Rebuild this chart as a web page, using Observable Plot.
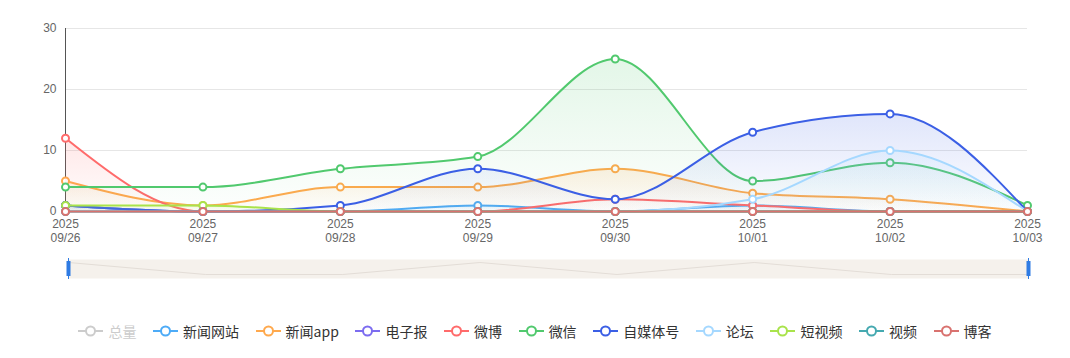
<!DOCTYPE html>
<html>
<head>
<meta charset="utf-8">
<script src="https://cdn.jsdelivr.net/npm/d3@7"></script>
<script src="https://cdn.jsdelivr.net/npm/@observablehq/plot@0.6"></script>
<style>
  html, body { margin: 0; padding: 0; background: #fff; }
  body { width: 1070px; height: 358px; overflow: hidden; font-family: "Noto Sans CJK SC", "Noto Sans", sans-serif; }
  #chart svg, #slider svg { display: block; }
  #legend { display: flex; justify-content: center; align-items: center; margin-top: 31px; height: 20px; font-size: 14px; color: #333; }
  .item { display: flex; align-items: center; margin: 0 8.3px; }
  .item svg { display: block; margin-right: 5px; }
</style>
</head>
<body>
<div id="chart"></div>
<div id="slider"></div>
<div id="legend"></div>
<script>
// ---- data ----
const dates = ["2025-09-26", "2025-09-27", "2025-09-28", "2025-09-29", "2025-09-30", "2025-10-01", "2025-10-02", "2025-10-03"];
const yTicks = [0, 10, 20, 30];

const legendNames = ["总量", "新闻网站", "新闻app", "电子报", "微博", "微信", "自媒体号", "论坛", "短视频", "视频", "博客"];
const legendColors = ["#cccccc", "#4dabf7", "#ffa94d", "#7c6cf0", "#ff6b6b", "#51c96e", "#3b5fe5", "#a5d8ff", "#a9e34b", "#45a9b0", "#d9726f"];
const hiddenSeries = ["总量"];

const newsSite = [1, 0, 0, 1, 0, 1, 0, 0];
const newsApp = [5, 1, 4, 4, 7, 3, 2, 0];
const ePaper = [1, 0, 0, 0, 0, 0, 0, 0];
const weibo = [12, 0, 0, 0, 2, 1, 0, 0];
const weixin = [4, 4, 7, 9, 25, 5, 8, 1];
const selfMedia = [1, 0, 1, 7, 2, 13, 16, 0];
const forum = [0, 0, 0, 0, 0, 2, 10, 0];
const shortVideo = [1, 1, 0, 0, 0, 0, 0, 0];
const video = [0, 0, 0, 0, 0, 0, 0, 0];
const blog = [0, 0, 0, 0, 0, 0, 0, 0];

const seriesValues = [newsSite, newsApp, ePaper, weibo, weixin, selfMedia, forum, shortVideo, video, blog];
const seriesNames = legendNames.filter(n => !hiddenSeries.includes(n));
const seriesColors = legendColors.filter((c, i) => !hiddenSeries.includes(legendNames[i]));

const rows = seriesNames.flatMap((name, si) =>
  dates.map((d, di) => ({series: name, date: d, value: seriesValues[si][di]})));

// ---- main chart ----
const seriesMarks = seriesNames.flatMap((name, si) => {
  const opts = {filter: r => r.series === name, x: "date", y: "value", curve: "monotone-x"};
  return [
    Plot.areaY(rows, {...opts, fill: `url(#grad-${si})`}),
    Plot.line(rows, {...opts, stroke: seriesColors[si], strokeWidth: 2}),
    Plot.dot(rows, {filter: opts.filter, x: "date", y: "value", r: 3.5, fill: "white", stroke: seriesColors[si], strokeWidth: 2})
  ];
});

const fmtYear = d => d.slice(0, 4);
const fmtDay = d => d.slice(5).replace("-", "/");
const axisFont = "'Liberation Sans', Arial, sans-serif";

const chart = Plot.plot({
  width: 1070,
  height: 250,
  marginLeft: 65,
  marginRight: 43,
  marginTop: 28,
  marginBottom: 39,
  style: {fontFamily: axisFont, fontSize: "12px", background: "white", overflow: "visible"},
  x: {type: "point", domain: dates, padding: 0, round: false},
  y: {domain: [0, 30]},
  marks: [
    Plot.gridY(yTicks, {stroke: "#e6e6e6", strokeOpacity: 1}),
    Plot.axisY(yTicks, {tickSize: 0, tickPadding: 9, fill: "#666", label: null}),
    Plot.axisX({tickSize: 0, tickPadding: 8, fill: "#666", label: null, tickFormat: fmtYear}),
    Plot.axisX({tickSize: 0, tickPadding: 21.5, fill: "#666", label: null, tickFormat: fmtDay}),
    Plot.ruleX([dates[0]], {y1: yTicks[0], y2: yTicks[yTicks.length - 1], stroke: "#555", strokeWidth: 1}),
    ...seriesMarks
  ]
});

const defs = d3.select(chart).insert("defs", ":first-child");
seriesColors.forEach((c, i) => {
  const g = defs.append("linearGradient").attr("id", `grad-${i}`).attr("x1", 0).attr("y1", 0).attr("x2", 0).attr("y2", 1);
  g.append("stop").attr("offset", "0%").attr("stop-color", c).attr("stop-opacity", 0.16);
  g.append("stop").attr("offset", "100%").attr("stop-color", c).attr("stop-opacity", 0.01);
});
document.getElementById("chart").append(chart);

// ---- data zoom slider ----
const slider = Plot.plot({
  width: 1070,
  height: 40,
  marginLeft: 68,
  marginRight: 42,
  marginTop: 9,
  marginBottom: 12,
  x: {type: "point", domain: dates, padding: 0, round: false, axis: null},
  y: {domain: [0, 1], range: [24, 12], axis: null},
  marks: [
    Plot.frame({fill: "#f5f1ec", stroke: null}),
    Plot.line(dates.map((d, i) => ({date: d, value: newsSite[i]})), {x: "date", y: "value", stroke: "#e3ddd7", strokeWidth: 1}),
    Plot.tickX([dates[0], dates[dates.length - 1]], {x: d => d, stroke: "#2f7be3", strokeWidth: 1, insetTop: -1, insetBottom: -1}),
    Plot.tickX([dates[0], dates[dates.length - 1]], {x: d => d, stroke: "#2f7be3", strokeWidth: 4, insetTop: 2, insetBottom: 2})
  ]
});
document.getElementById("slider").append(slider);

// ---- legend ----
const legend = document.getElementById("legend");
legendNames.forEach((name, i) => {
  const hidden = hiddenSeries.includes(name);
  const color = legendColors[i];
  const item = document.createElement("div");
  item.className = "item";
  item.innerHTML = `<svg width="25" height="14"><line x1="0" y1="7" x2="25" y2="7" stroke="${color}" stroke-width="2"/><circle cx="12.5" cy="7" r="4.5" fill="white" stroke="${color}" stroke-width="2"/></svg><span style="color:${hidden ? "#ccc" : "#333"}">${name}</span>`;
  legend.append(item);
});
</script>
</body>
</html>
